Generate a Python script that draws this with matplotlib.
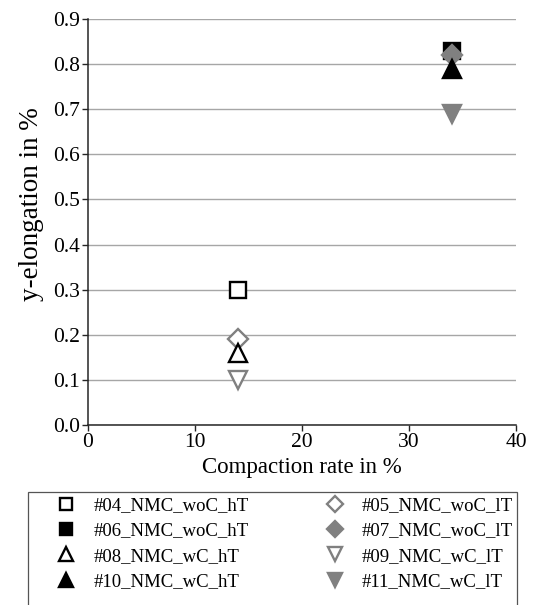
import matplotlib
matplotlib.use("Agg")
import matplotlib.pyplot as plt
from matplotlib.patches import Rectangle

plt.rcParams['font.family'] = ['Liberation Serif', 'DejaVu Serif']

labels = ["#04_NMC_woC_hT", "#06_NMC_woC_hT", "#08_NMC_wC_hT", "#10_NMC_wC_hT",
          "#05_NMC_woC_lT", "#07_NMC_woC_lT", "#09_NMC_wC_lT", "#11_NMC_wC_lT"]
x_vals = [14, 34, 14, 34, 14, 34, 14, 34]
y_vals = [0.30, 0.83, 0.16, 0.79, 0.19, 0.82, 0.10, 0.69]
markers = ['s', 's', '^', '^', 'D', 'D', 'v', 'v']
filled = [False, True, False, True, False, True, False, True]
colors = ['black', 'black', 'black', 'black', '#808080', '#808080', '#808080', '#808080']

W, H = 539, 605
fig = plt.figure(figsize=(W / 100, H / 100), dpi=100)
ax = fig.add_axes([88 / W, 1 - 425 / H, (516 - 88) / W, (425 - 19) / H])

msize = {'s': 11, '^': 13, 'v': 13, 'D': 10.5}
draw_order = [0, 4, 2, 6, 1, 5, 3, 7]
for i in draw_order:
    ax.plot([x_vals[i]], [y_vals[i]], linestyle='none', marker=markers[i],
            markersize=msize[markers[i]], markeredgewidth=1.7,
            markerfacecolor=colors[i] if filled[i] else 'white',
            markeredgecolor=colors[i], label=labels[i], zorder=3)

ax.set_xlim(0, 40)
ax.set_ylim(0, 0.9)
ax.set_xticks([0, 10, 20, 30, 40])
ax.set_yticks([i / 10 for i in range(10)])
ax.set_yticklabels([f"{i/10:.1f}" for i in range(10)])
ax.yaxis.grid(True, color='#a6a6a6', linewidth=1.0)
ax.set_axisbelow(True)
for s in ['top', 'right']:
    ax.spines[s].set_visible(False)
for s in ['left', 'bottom']:
    ax.spines[s].set_color('#262626')
    ax.spines[s].set_linewidth(1.1)
ax.tick_params(axis='both', labelsize=15.5, length=4, width=1.0, color='#262626', pad=2)
ax.set_xlabel("Compaction rate in %", fontsize=16.5, labelpad=3)
ax.set_ylabel("y-elongation in %", fontsize=19.5)
ax.yaxis.set_label_coords(-0.103, 0.545)

# legend frame (bottom clipped by the figure edge as in the reference)
fig.patches.append(Rectangle((28 / W, -0.02), (517 - 28) / W, 0.02 + 1 - 492 / H,
                             transform=fig.transFigure, facecolor='white',
                             edgecolor='#555555', linewidth=0.9, zorder=0))

leg_handles = []
for i in range(8):
    h, = ax.plot([], [], linestyle='none', marker=markers[i],
                 markersize=msize[markers[i]] * 0.8, markeredgewidth=1.7,
                 markerfacecolor=colors[i] if filled[i] else 'white',
                 markeredgecolor=colors[i])
    leg_handles.append(h)

leg = fig.legend(leg_handles, labels, ncol=2, loc='upper left',
                 bbox_to_anchor=(52 / W, 1 - 497 / H),
                 fontsize=13.5, frameon=False, handlelength=1.5,
                 handletextpad=0.7, labelspacing=0.44, borderpad=0,
                 borderaxespad=0, columnspacing=3.85)

fig.savefig("out.png", dpi=100)
